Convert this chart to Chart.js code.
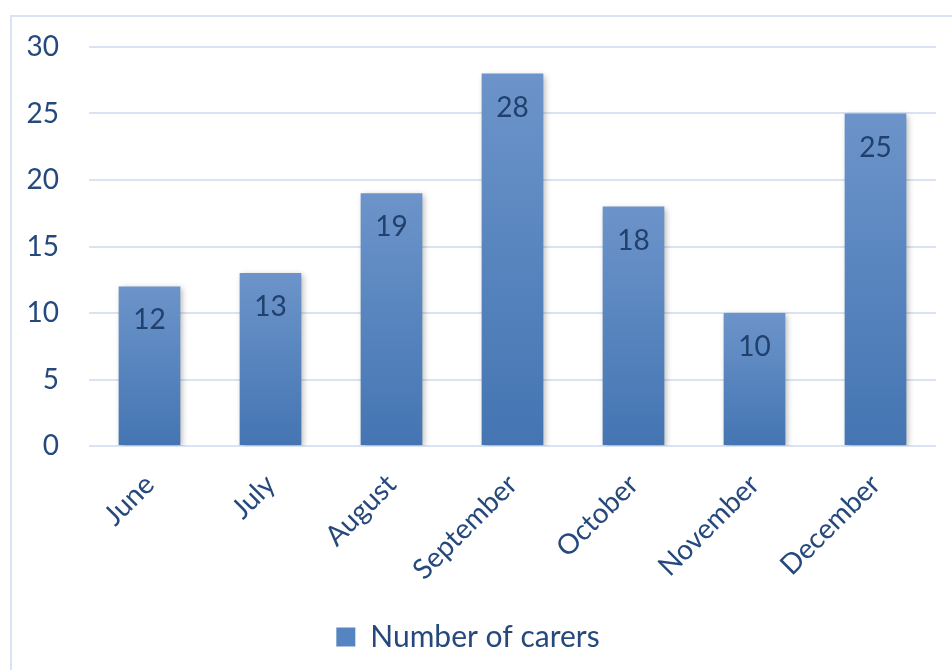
<!DOCTYPE html>
<html>
<head>
<meta charset="utf-8">
<script src="https://cdn.jsdelivr.net/npm/chart.js@4/dist/chart.umd.min.js"></script>
<style>
  html, body { margin: 0; padding: 0; background: #ffffff; overflow: hidden; }
  #frame { position: absolute; left: 10px; top: 15px; width: 1000px; height: 700px;
           border-left: 2px solid #dae3f3; border-top: 2px solid #dae3f3; box-sizing: border-box; }
  #c { position: absolute; left: 0; top: 0; }
</style>
</head>
<body>
<div id="frame"></div>
<canvas id="c" width="952" height="670"></canvas>
<script>
const categories = ["June", "July", "August", "September", "October", "November", "December"];
const carers = [12, 13, 19, 28, 18, 10, 25];
const yTicks = [0, 5, 10, 15, 20, 25, 30];
const seriesName = "Number of carers";

const textColor = "#25497c";
const labelColor = "#21406d";
const fontFamily = "Lato, 'Open Sans', sans-serif";

function barGradient(ctx) {
  const chart = ctx.chart;
  const y = chart.scales.y;
  if (!y || ctx.type !== 'data') return "#5a86c0";
  const top = y.getPixelForValue(ctx.raw);
  const bottom = y.getPixelForValue(0);
  const g = chart.ctx.createLinearGradient(0, top, 0, bottom);
  g.addColorStop(0, "#6c94ca");
  g.addColorStop(1, "#4475b2");
  return g;
}

const shadowPlugin = {
  id: 'barShadow',
  beforeDatasetDraw(chart) {
    const c = chart.ctx;
    c.save();
    c.shadowColor = "rgba(0,0,0,0.28)";
    c.shadowBlur = 6;
    c.shadowOffsetX = 2;
    c.shadowOffsetY = 2;
  },
  afterDatasetDraw(chart) {
    chart.ctx.restore();
  }
};

const valueLabels = {
  id: 'valueLabels',
  afterDatasetsDraw(chart) {
    const c = chart.ctx;
    const meta = chart.getDatasetMeta(0);
    c.save();
    c.font = "28px " + fontFamily;
    c.fillStyle = labelColor;
    c.textAlign = "center";
    c.textBaseline = "middle";
    meta.data.forEach((bar, i) => {
      c.fillText(String(chart.data.datasets[0].data[i]), bar.x, bar.y + 34);
    });
    c.restore();
  }
};

new Chart(document.getElementById('c'), {
  type: 'bar',
  data: {
    labels: categories,
    datasets: [{
      label: seriesName,
      data: carers,
      backgroundColor: barGradient,
      borderWidth: 0,
      barPercentage: 0.51,
      categoryPercentage: 1.0
    }]
  },
  options: {
    responsive: false,
    animation: false,
    layout: { padding: { left: 0, right: 16, top: 47, bottom: 8 } },
    scales: {
      x: {
        grid: { display: false },
        border: { display: false },
        ticks: {
          color: textColor,
          font: { family: fontFamily, size: 28 },
          maxRotation: 45, minRotation: 45,
          padding: 14,
          autoSkip: false
        },
        afterFit(scale) { scale.height = 166; }
      },
      y: {
        min: 0, max: 30,
        afterBuildTicks(scale) { scale.ticks = yTicks.map(v => ({ value: v })); },
        grid: { color: "#d9e3f2", lineWidth: 2, drawTicks: false },
        border: { display: false },
        ticks: {
          color: textColor,
          font: { family: fontFamily, size: 28 },
          padding: 30
        },
        afterFit(scale) { scale.width = 89; }
      }
    },
    plugins: {
      tooltip: { enabled: false },
      legend: {
        position: 'bottom',
        labels: {
          color: textColor,
          font: { family: fontFamily, size: 30 },
          boxWidth: 19, boxHeight: 19,
          padding: 10,
          generateLabels(chart) {
            return [{
              text: seriesName,
              fillStyle: "#5684c0",
              strokeStyle: "#5684c0",
              lineWidth: 0,
              fontColor: textColor,
              datasetIndex: 0
            }];
          }
        }
      }
    }
  },
  plugins: [shadowPlugin, valueLabels]
});
</script>
</body>
</html>
